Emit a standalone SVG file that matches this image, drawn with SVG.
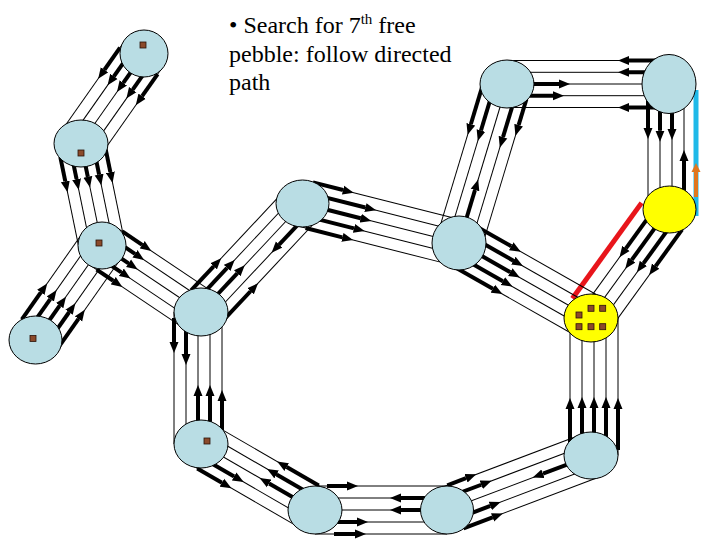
<svg xmlns="http://www.w3.org/2000/svg" width="720" height="540" viewBox="0 0 720 540">
<defs>
<marker id="ah" markerUnits="userSpaceOnUse" markerWidth="11" markerHeight="10" viewBox="0 -5 11 10" refX="0" refY="0" orient="auto"><path d="M0,-4.5 L11,0 L0,4.5 z" fill="#000"/></marker>
<marker id="aho" markerUnits="userSpaceOnUse" markerWidth="9" markerHeight="10" viewBox="0 -5 9 10" refX="0" refY="0" orient="auto"><path d="M0,-4.5 L9,0 L0,4.5 z" fill="#e0761e"/></marker>
<style>
.t{stroke:#000;stroke-width:1;fill:none}
.a{stroke:#000;stroke-width:4;marker-end:url(#ah)}
.n{fill:#b9dde4;stroke:#000;stroke-width:1}
.y{fill:#ffff00;stroke:#000;stroke-width:1}
.p{fill:#8b4a2b;stroke:#2a1208;stroke-width:0.8}
.txt{font-family:"Liberation Serif","Times New Roman",serif;font-size:24px;fill:#000}
</style>
</defs>
<rect width="720" height="540" fill="#fff"/>
<g id="connectors">
<!-- A-B -->
<g transform="translate(144,53.5) rotate(125.1)">
<line class="t" x1="0" y1="-23" x2="109.4" y2="-23"/><line class="t" x1="0" y1="-11.5" x2="109.4" y2="-11.5"/><line class="t" x1="0" y1="0" x2="109.4" y2="0"/><line class="t" x1="0" y1="11.5" x2="109.4" y2="11.5"/><line class="t" x1="0" y1="23" x2="109.4" y2="23"/>
<line class="a" x1="9" y1="-23" x2="36" y2="-23"/><line class="a" x1="0" y1="-11.5" x2="36" y2="-11.5"/><line class="a" x1="0" y1="0" x2="36" y2="0"/><line class="a" x1="0" y1="11.5" x2="36" y2="11.5"/><line class="a" x1="9" y1="23" x2="36" y2="23"/>
</g>
<!-- B-C -->
<g transform="translate(81,143.5) rotate(78.4)">
<line class="t" x1="0" y1="-23" x2="104.1" y2="-23"/><line class="t" x1="0" y1="-11.5" x2="104.1" y2="-11.5"/><line class="t" x1="0" y1="0" x2="104.1" y2="0"/><line class="t" x1="0" y1="11.5" x2="104.1" y2="11.5"/><line class="t" x1="0" y1="23" x2="104.1" y2="23"/>
<line class="a" x1="9" y1="-23" x2="34" y2="-23"/><line class="a" x1="0" y1="-11.5" x2="34" y2="-11.5"/><line class="a" x1="0" y1="0" x2="34" y2="0"/><line class="a" x1="0" y1="11.5" x2="34" y2="11.5"/><line class="a" x1="9" y1="23" x2="34" y2="23"/>
</g>
<!-- D-C -->
<g transform="translate(35.5,340) rotate(-54.9)">
<line class="t" x1="0" y1="-23" x2="115.5" y2="-23"/><line class="t" x1="0" y1="-11.5" x2="115.5" y2="-11.5"/><line class="t" x1="0" y1="0" x2="115.5" y2="0"/><line class="t" x1="0" y1="11.5" x2="115.5" y2="11.5"/><line class="t" x1="0" y1="23" x2="115.5" y2="23"/>
<line class="a" x1="9" y1="-23" x2="42" y2="-23"/><line class="a" x1="0" y1="-11.5" x2="42" y2="-11.5"/><line class="a" x1="0" y1="0" x2="42" y2="0"/><line class="a" x1="0" y1="11.5" x2="42" y2="11.5"/><line class="a" x1="9" y1="23" x2="42" y2="23"/>
</g>
<!-- C-E -->
<g transform="translate(102,245.5) rotate(33.9)">
<line class="t" x1="0" y1="-23" x2="119.3" y2="-23"/><line class="t" x1="0" y1="-11.5" x2="119.3" y2="-11.5"/><line class="t" x1="0" y1="0" x2="119.3" y2="0"/><line class="t" x1="0" y1="11.5" x2="119.3" y2="11.5"/><line class="t" x1="0" y1="23" x2="119.3" y2="23"/>
<line class="a" x1="9" y1="-23" x2="33" y2="-23"/><line class="a" x1="0" y1="-11.5" x2="32" y2="-11.5"/><line class="a" x1="0" y1="0" x2="32" y2="0"/><line class="a" x1="0" y1="11.5" x2="31" y2="11.5"/><line class="a" x1="9" y1="23" x2="29" y2="23"/>
</g>
<!-- E-F -->
<g transform="translate(201,312) rotate(-46.9)">
<line class="t" x1="0" y1="-22" x2="148.6" y2="-22"/><line class="t" x1="0" y1="-11" x2="148.6" y2="-11"/><line class="t" x1="0" y1="0" x2="148.6" y2="0"/><line class="t" x1="0" y1="11" x2="148.6" y2="11"/><line class="t" x1="0" y1="22" x2="148.6" y2="22"/>
<line class="a" x1="9" y1="-22" x2="42" y2="-22"/><line class="a" x1="0" y1="-11" x2="50" y2="-11"/><line class="a" x1="0" y1="0" x2="53" y2="0"/><line class="a" x1="9" y1="22" x2="49" y2="22"/>
<line class="a" x1="148.6" y1="11" x2="102.6" y2="11"/>
</g>
<!-- E-O -->
<g>
<line class="t" x1="174" y1="312" x2="174" y2="444"/><line class="t" x1="186" y1="312" x2="186" y2="444"/><line class="t" x1="198" y1="312" x2="198" y2="444"/><line class="t" x1="210" y1="312" x2="210" y2="444"/><line class="t" x1="222" y1="312" x2="222" y2="444"/>
<line class="a" x1="174" y1="318" x2="174" y2="342"/><line class="a" x1="186" y1="312" x2="186" y2="354"/>
<line class="a" x1="198" y1="444" x2="198" y2="396"/><line class="a" x1="210" y1="444" x2="210" y2="396"/><line class="a" x1="222" y1="444" x2="222" y2="401"/>
</g>
<!-- F-G -->
<g transform="translate(302.5,203.5) rotate(14.2)">
<line class="t" x1="0" y1="-23" x2="161.4" y2="-23"/><line class="t" x1="0" y1="-11.5" x2="161.4" y2="-11.5"/><line class="t" x1="0" y1="0" x2="161.4" y2="0"/><line class="t" x1="0" y1="11.5" x2="161.4" y2="11.5"/><line class="t" x1="0" y1="23" x2="161.4" y2="23"/>
<line class="a" x1="5" y1="-23" x2="36" y2="-23"/><line class="a" x1="0" y1="-11.5" x2="62" y2="-11.5"/><line class="a" x1="0" y1="0" x2="60" y2="0"/><line class="a" x1="0" y1="11.5" x2="56" y2="11.5"/><line class="a" x1="9" y1="23" x2="47" y2="23"/>
</g>
<!-- H-G -->
<g transform="translate(507,84) rotate(106.8)">
<line class="t" x1="0" y1="-23" x2="166.1" y2="-23"/><line class="t" x1="0" y1="-11.5" x2="166.1" y2="-11.5"/><line class="t" x1="0" y1="0" x2="166.1" y2="0"/><line class="t" x1="0" y1="11.5" x2="166.1" y2="11.5"/><line class="t" x1="0" y1="23" x2="166.1" y2="23"/>
<line class="a" x1="9" y1="23" x2="49" y2="23"/><line class="a" x1="0" y1="11.5" x2="52" y2="11.5"/><line class="a" x1="0" y1="-11.5" x2="52" y2="-11.5"/><line class="a" x1="9" y1="-23" x2="36" y2="-23"/>
<line class="a" x1="166.1" y1="0" x2="110.7" y2="0"/>
</g>
<!-- I-H -->
<g>
<line class="t" x1="507" y1="60.5" x2="669" y2="60.5"/><line class="t" x1="507" y1="72.3" x2="669" y2="72.3"/><line class="t" x1="507" y1="84" x2="669" y2="84"/><line class="t" x1="507" y1="95.7" x2="669" y2="95.7"/><line class="t" x1="507" y1="107.5" x2="669" y2="107.5"/>
<line class="a" x1="660" y1="60.5" x2="629" y2="60.5"/><line class="a" x1="669" y1="72.3" x2="629" y2="72.3"/><line class="a" x1="660" y1="107.5" x2="629" y2="107.5"/>
<line class="a" x1="507" y1="84" x2="559" y2="84"/><line class="a" x1="507" y1="95.7" x2="553" y2="95.7"/>
</g>
<!-- I-J -->
<g>
<line class="t" x1="648" y1="84" x2="648" y2="209.5"/><line class="t" x1="660" y1="84" x2="660" y2="209.5"/><line class="t" x1="672" y1="84" x2="672" y2="209.5"/><line class="t" x1="684" y1="84" x2="684" y2="209.5"/>
<line class="a" x1="648" y1="84" x2="648" y2="128"/><line class="a" x1="660" y1="84" x2="660" y2="130.7"/><line class="a" x1="672" y1="84" x2="672" y2="129"/>
<line class="a" x1="684" y1="209.5" x2="684" y2="161"/>
<line x1="696" y1="90" x2="696" y2="216" stroke="#1fb9e8" stroke-width="5"/>
<line x1="696" y1="197" x2="696" y2="172" stroke="#e0761e" stroke-width="4" marker-end="url(#aho)"/>
</g>
<!-- J-K -->
<g transform="translate(669.5,209.5) rotate(125.9)">
<line class="t" x1="0" y1="12.5" x2="133.9" y2="12.5"/><line class="t" x1="0" y1="1" x2="133.9" y2="1"/><line class="t" x1="0" y1="-10.5" x2="133.9" y2="-10.5"/><line class="t" x1="0" y1="-22" x2="133.9" y2="-22"/>
<line class="a" x1="0" y1="12.5" x2="57" y2="12.5"/><line class="a" x1="0" y1="1" x2="63" y2="1"/><line class="a" x1="0" y1="-10.5" x2="59" y2="-10.5"/><line class="a" x1="9" y1="-22" x2="54" y2="-22"/>
<line x1="11" y1="26.5" x2="129" y2="26.5" stroke="#e8151b" stroke-width="5"/>
</g>
<!-- G-K -->
<g transform="translate(459,243) rotate(29.6)">
<line class="t" x1="0" y1="-23" x2="151.8" y2="-23"/><line class="t" x1="0" y1="-11.5" x2="151.8" y2="-11.5"/><line class="t" x1="0" y1="0" x2="151.8" y2="0"/><line class="t" x1="0" y1="11.5" x2="151.8" y2="11.5"/><line class="t" x1="0" y1="23" x2="151.8" y2="23"/>
<line class="a" x1="9" y1="-23" x2="47" y2="-23"/><line class="a" x1="0" y1="-11.5" x2="56" y2="-11.5"/><line class="a" x1="0" y1="0" x2="59" y2="0"/><line class="a" x1="0" y1="11.5" x2="57" y2="11.5"/><line class="a" x1="9" y1="23" x2="52" y2="23"/>
</g>
<!-- L-K -->
<g>
<line class="t" x1="570" y1="318" x2="570" y2="455.5"/><line class="t" x1="582" y1="318" x2="582" y2="455.5"/><line class="t" x1="594" y1="318" x2="594" y2="455.5"/><line class="t" x1="606" y1="318" x2="606" y2="455.5"/><line class="t" x1="618" y1="318" x2="618" y2="455.5"/>
<line class="a" x1="570" y1="450" x2="570" y2="409"/><line class="a" x1="582" y1="455.5" x2="582" y2="408"/><line class="a" x1="594" y1="455.5" x2="594" y2="408"/><line class="a" x1="606" y1="455.5" x2="606" y2="408"/><line class="a" x1="618" y1="450" x2="618" y2="409"/>
</g>
<!-- M-L -->
<g transform="translate(447,510) rotate(-20.7)">
<line class="t" x1="0" y1="-23" x2="154" y2="-23"/><line class="t" x1="0" y1="-11.5" x2="154" y2="-11.5"/><line class="t" x1="0" y1="0" x2="154" y2="0"/><line class="t" x1="0" y1="11.5" x2="154" y2="11.5"/><line class="t" x1="0" y1="23" x2="154" y2="23"/>
<line class="a" x1="9" y1="-23" x2="29" y2="-23"/><line class="a" x1="0" y1="-11.5" x2="41" y2="-11.5"/><line class="a" x1="0" y1="11.5" x2="42" y2="11.5"/><line class="a" x1="9" y1="23" x2="40" y2="23"/>
<line class="a" x1="154" y1="0" x2="102.6" y2="0"/>
</g>
<!-- N-M -->
<g>
<line class="t" x1="315" y1="486" x2="447" y2="486"/><line class="t" x1="315" y1="498" x2="447" y2="498"/><line class="t" x1="315" y1="510" x2="447" y2="510"/><line class="t" x1="315" y1="522" x2="447" y2="522"/><line class="t" x1="315" y1="534" x2="447" y2="534"/>
<line class="a" x1="327" y1="486" x2="347" y2="486"/><line class="a" x1="315" y1="522" x2="357" y2="522"/><line class="a" x1="334" y1="534" x2="355" y2="534"/>
<line class="a" x1="447" y1="498" x2="401" y2="498"/><line class="a" x1="447" y1="510" x2="401" y2="510"/>
</g>
<!-- O-N -->
<g transform="translate(201,444) rotate(30.07)">
<line class="t" x1="0" y1="-23" x2="131.7" y2="-23"/><line class="t" x1="0" y1="-11.5" x2="131.7" y2="-11.5"/><line class="t" x1="0" y1="0" x2="131.7" y2="0"/><line class="t" x1="0" y1="11.5" x2="131.7" y2="11.5"/><line class="t" x1="0" y1="23" x2="131.7" y2="23"/>
<line class="a" x1="9" y1="23" x2="37.5" y2="23"/><line class="a" x1="0" y1="11.5" x2="45" y2="11.5"/>
<line class="a" x1="122.7" y1="-23" x2="85.7" y2="-23"/><line class="a" x1="131.7" y1="-11.5" x2="80.7" y2="-11.5"/><line class="a" x1="131.7" y1="0" x2="78.7" y2="0"/>
</g>
</g>
<g id="node-A"><ellipse class="n" cx="144" cy="53.5" rx="24" ry="23.5"/><rect class="p" x="140" y="42" width="6" height="6"/></g>
<g id="node-B"><ellipse class="n" cx="81" cy="143.5" rx="27" ry="23.5"/><rect class="p" x="78" y="150" width="6" height="6"/></g>
<g id="node-C"><ellipse class="n" cx="102" cy="245.5" rx="24" ry="23.5"/><rect class="p" x="96" y="240" width="6" height="6"/></g>
<g id="node-D"><ellipse class="n" cx="35.5" cy="340" rx="26.5" ry="24"/><rect class="p" x="30" y="335.5" width="6" height="6"/></g>
<g id="node-E"><ellipse class="n" cx="201" cy="312" rx="27" ry="24"/></g>
<g id="node-F"><ellipse class="n" cx="302.5" cy="203.5" rx="26.5" ry="23.5"/></g>
<g id="node-G"><ellipse class="n" cx="459" cy="243" rx="27" ry="27"/></g>
<g id="node-H"><ellipse class="n" cx="507" cy="84" rx="27" ry="24"/></g>
<g id="node-I"><ellipse class="n" cx="669" cy="84" rx="27" ry="29.5"/></g>
<g id="node-J"><ellipse class="y" cx="669.5" cy="209.5" rx="26.5" ry="23.5"/></g>
<g id="node-K"><ellipse class="y" cx="591" cy="318" rx="27" ry="24"/>
<rect class="p" x="576" y="312" width="6" height="6"/><rect class="p" x="588" y="305.3" width="6" height="6"/><rect class="p" x="599.7" y="305.3" width="6" height="6"/>
<rect class="p" x="576" y="323.7" width="6" height="6"/><rect class="p" x="588" y="323.7" width="6" height="6"/><rect class="p" x="599.7" y="323.7" width="6" height="6"/></g>
<g id="node-L"><ellipse class="n" cx="591" cy="455.5" rx="27" ry="23.5"/></g>
<g id="node-M"><ellipse class="n" cx="447" cy="510" rx="26.5" ry="24"/></g>
<g id="node-N"><ellipse class="n" cx="315" cy="510" rx="27" ry="24"/></g>
<g id="node-O"><ellipse class="n" cx="201" cy="444" rx="27" ry="24"/><rect class="p" x="204" y="438" width="6" height="6"/></g>
<g id="label">
<text class="txt" x="229" y="33">• Search for 7<tspan font-size="15" dy="-9">th</tspan><tspan dy="9"> free</tspan></text>
<text class="txt" x="229" y="62">pebble: follow directed</text>
<text class="txt" x="229" y="90">path</text>
</g>
</svg>
